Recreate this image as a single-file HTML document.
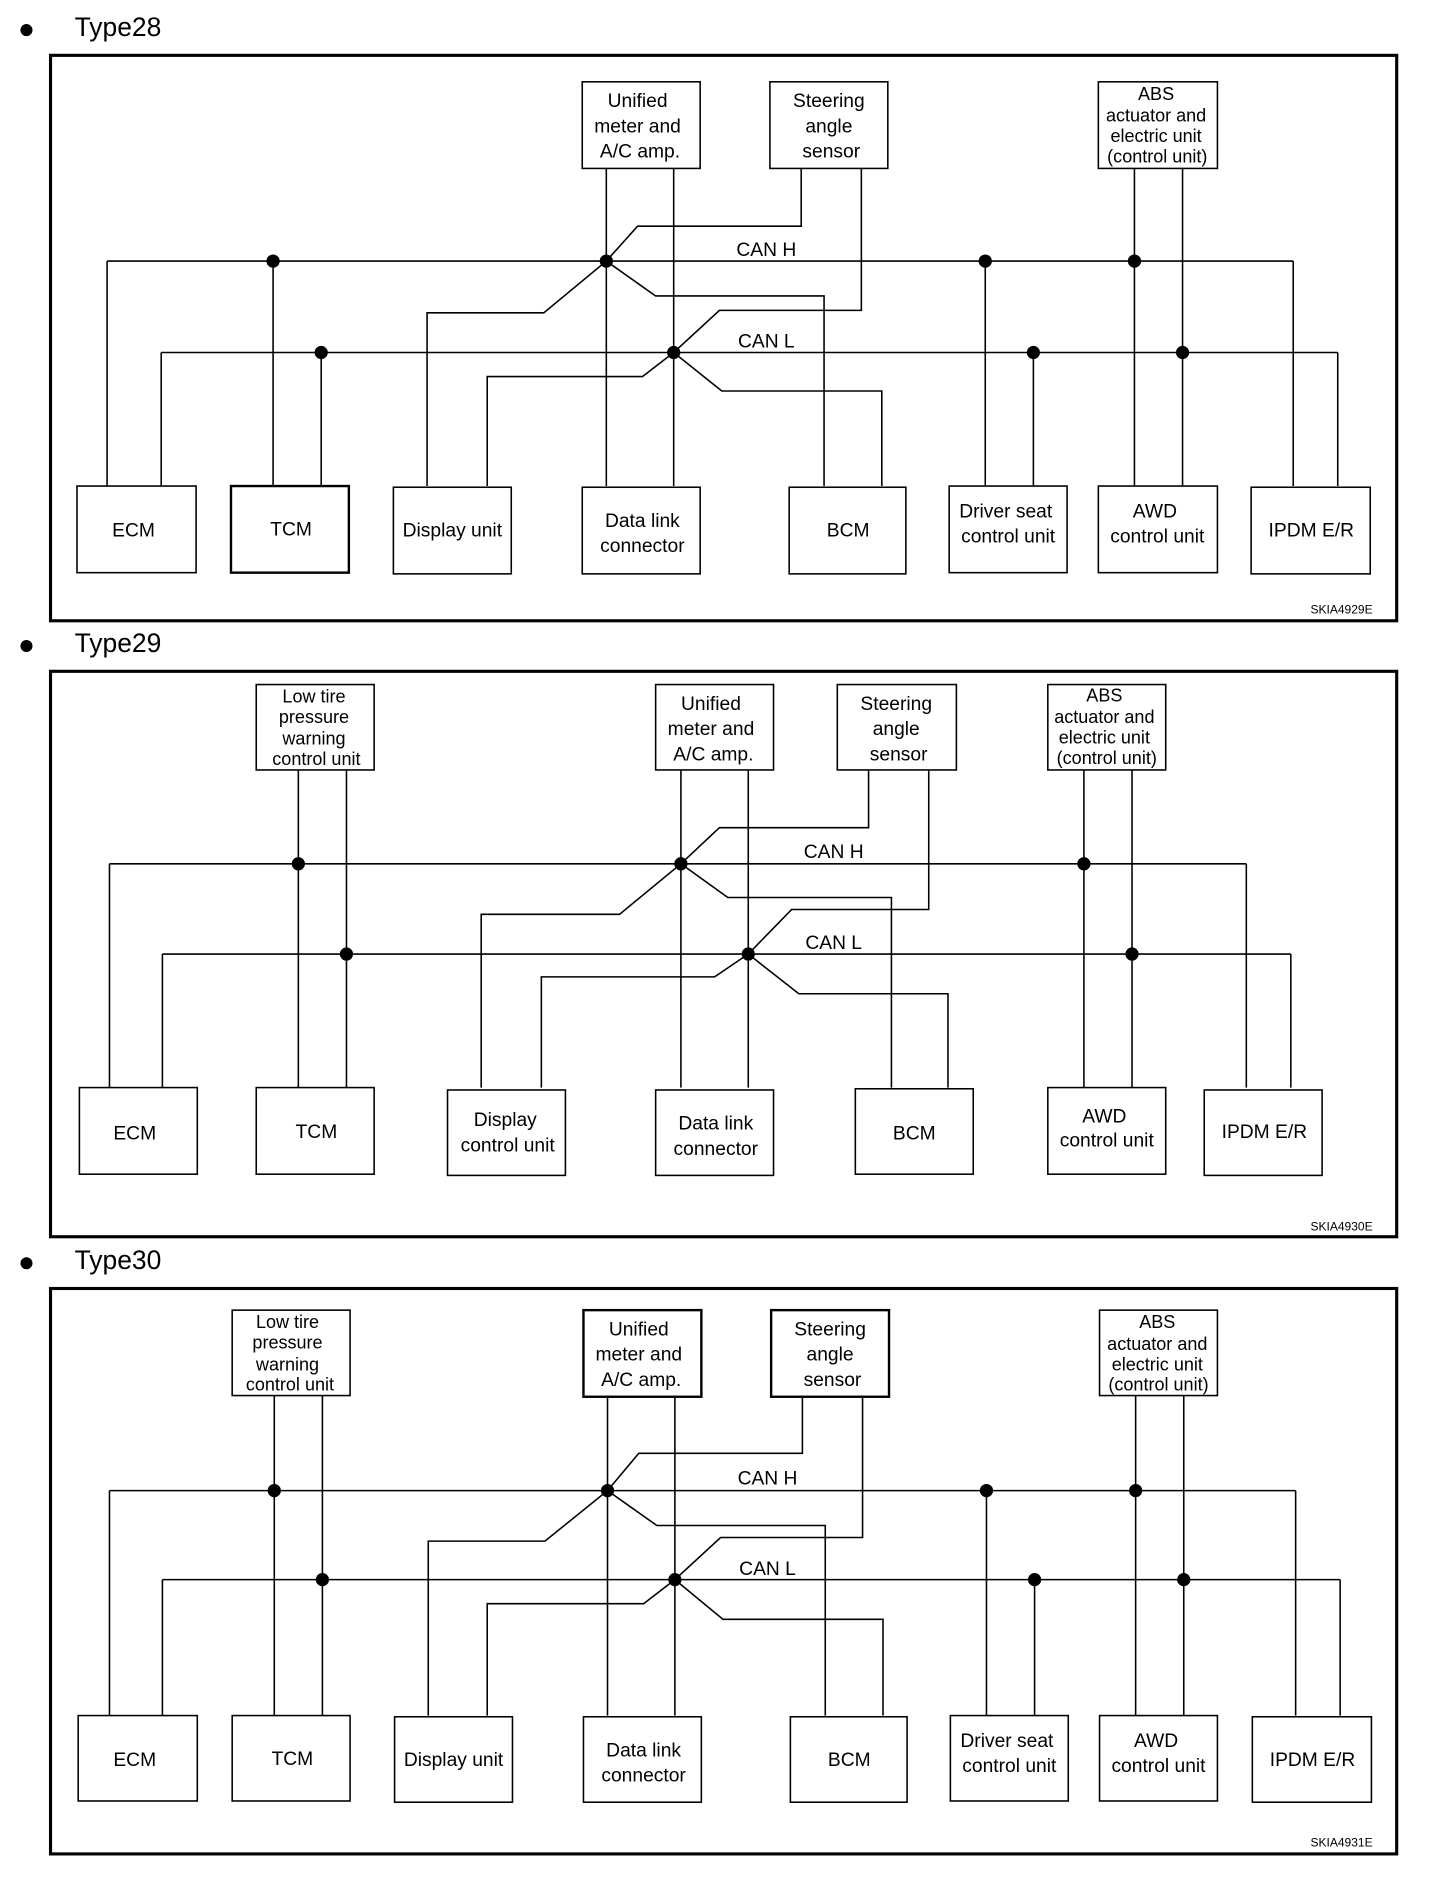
<!DOCTYPE html>
<html><head><meta charset="utf-8"><style>
html,body{margin:0;padding:0;background:#fff}
svg{display:block}
text{font-family:"Liberation Sans",Arial,sans-serif;fill:#000}
</style></head><body>
<svg width="1440" height="1884" viewBox="0 0 1197 1566" preserveAspectRatio="none" xmlns="http://www.w3.org/2000/svg">
<defs><style>
.w{fill:none;stroke:#000;stroke-width:1.3}
.b{fill:#fff;stroke:#000;stroke-width:1.3}
.f{fill:none;stroke:#000;stroke-width:2.6}
.t{font-size:16px;text-anchor:middle}
.s{font-size:15px;text-anchor:middle}
.h{font-size:22px}
.k{font-size:10px;text-anchor:end}
</style></defs>

<!-- ===== Type28 ===== -->
<circle cx="22" cy="25" r="5"/>
<text class="h" x="62" y="30">Type28</text>
<rect class="f" x="42" y="46" width="1119" height="470"/>
<g class="w">
<line x1="89" y1="217" x2="1075" y2="217"/>
<line x1="134" y1="293" x2="1112" y2="293"/>
<polyline points="89,217 89,404"/><polyline points="134,293 134,404"/>
<line x1="227" y1="217" x2="227" y2="404"/><line x1="267" y1="293" x2="267" y2="404"/>
<line x1="504" y1="140" x2="504" y2="404"/><line x1="560" y1="140" x2="560" y2="404"/>
<polyline points="666,140 666,188 530,188 504,217 452,260 355,260 355,404"/>
<polyline points="716,140 716,258 598,258 560,293 534,313 405,313 405,404"/>
<polyline points="504,217 545,246 685,246 685,404"/>
<polyline points="560,293 600,325 733,325 733,404"/>
<line x1="819" y1="217" x2="819" y2="404"/><line x1="859" y1="293" x2="859" y2="404"/>
<line x1="943" y1="140" x2="943" y2="404"/><line x1="983" y1="140" x2="983" y2="404"/>
<polyline points="1075,217 1075,404"/><polyline points="1112,293 1112,404"/>
</g>
<g>
<circle cx="227" cy="217" r="5.5"/><circle cx="504" cy="217" r="5.5"/><circle cx="819" cy="217" r="5.5"/><circle cx="943" cy="217" r="5.5"/>
<circle cx="267" cy="293" r="5.5"/><circle cx="560" cy="293" r="5.5"/><circle cx="859" cy="293" r="5.5"/><circle cx="983" cy="293" r="5.5"/>
</g>
<text class="t" x="637" y="213">CAN H</text><text class="t" x="637" y="289">CAN L</text>
<rect class="b" x="484" y="68" width="98" height="72"/>
<text class="t" x="530" y="89">Unified</text><text class="t" x="530" y="110">meter and</text><text class="t" x="532" y="131">A/C amp.</text>
<rect class="b" x="640" y="68" width="98" height="72"/>
<text class="t" x="689" y="89">Steering</text><text class="t" x="689" y="110">angle</text><text class="t" x="691" y="131">sensor</text>
<rect class="b" x="913" y="68" width="99" height="72"/>
<text class="s" x="961" y="83">ABS</text><text class="s" x="961" y="101">actuator and</text><text class="s" x="961" y="118">electric unit</text><text class="s" x="962" y="135">(control unit)</text>
<rect class="b" x="64" y="404" width="99" height="72"/><text class="t" x="111" y="446">ECM</text>
<rect class="b" x="192" y="404" width="98" height="72" style="stroke-width:2"/><text class="t" x="242" y="445">TCM</text>
<rect class="b" x="327" y="405" width="98" height="72"/><text class="t" x="376" y="446">Display unit</text>
<rect class="b" x="484" y="405" width="98" height="72"/><text class="t" x="534" y="438">Data link</text><text class="t" x="534" y="459">connector</text>
<rect class="b" x="656" y="405" width="97" height="72"/><text class="t" x="705" y="446">BCM</text>
<rect class="b" x="789" y="404" width="98" height="72"/><text class="t" x="836" y="430">Driver seat</text><text class="t" x="838" y="451">control unit</text>
<rect class="b" x="913" y="404" width="99" height="72"/><text class="t" x="960" y="430">AWD</text><text class="t" x="962" y="451">control unit</text>
<rect class="b" x="1040" y="405" width="99" height="72"/><text class="t" x="1090" y="446">IPDM E/R</text>
<text class="k" x="1141" y="510">SKIA4929E</text>

<!-- ===== Type29 ===== -->
<circle cx="22" cy="537" r="5"/>
<text class="h" x="62" y="542">Type29</text>
<rect class="f" x="42" y="558" width="1119" height="470"/>
<g class="w">
<line x1="91" y1="718" x2="1036" y2="718"/>
<line x1="135" y1="793" x2="1073" y2="793"/>
<line x1="91" y1="718" x2="91" y2="904"/><line x1="135" y1="793" x2="135" y2="904"/>
<line x1="248" y1="640" x2="248" y2="904"/><line x1="288" y1="640" x2="288" y2="904"/>
<line x1="566" y1="640" x2="566" y2="904"/><line x1="622" y1="640" x2="622" y2="904"/>
<polyline points="722,640 722,688 598,688 566,718 515,760 400,760 400,904"/>
<polyline points="772,640 772,756 658,756 622,793 594,812 450,812 450,904"/>
<polyline points="566,718 605,746 741,746 741,904"/>
<polyline points="622,793 664,826 788,826 788,904"/>
<line x1="901" y1="640" x2="901" y2="904"/><line x1="941" y1="640" x2="941" y2="904"/>
<line x1="1036" y1="718" x2="1036" y2="904"/><line x1="1073" y1="793" x2="1073" y2="904"/>
</g>
<g>
<circle cx="248" cy="718" r="5.5"/><circle cx="566" cy="718" r="5.5"/><circle cx="901" cy="718" r="5.5"/>
<circle cx="288" cy="793" r="5.5"/><circle cx="622" cy="793" r="5.5"/><circle cx="941" cy="793" r="5.5"/>
</g>
<text class="t" x="693" y="713">CAN H</text><text class="t" x="693" y="789">CAN L</text>
<rect class="b" x="213" y="569" width="98" height="71"/>
<text class="s" x="261" y="584">Low tire</text><text class="s" x="261" y="601">pressure</text><text class="s" x="261" y="619">warning</text><text class="s" x="263" y="636">control unit</text>
<rect class="b" x="545" y="569" width="98" height="71"/>
<text class="t" x="591" y="590">Unified</text><text class="t" x="591" y="611">meter and</text><text class="t" x="593" y="632">A/C amp.</text>
<rect class="b" x="696" y="569" width="99" height="71"/>
<text class="t" x="745" y="590">Steering</text><text class="t" x="745" y="611">angle</text><text class="t" x="747" y="632">sensor</text>
<rect class="b" x="871" y="569" width="98" height="71"/>
<text class="s" x="918" y="583">ABS</text><text class="s" x="918" y="601">actuator and</text><text class="s" x="918" y="618">electric unit</text><text class="s" x="920" y="635">(control unit)</text>
<rect class="b" x="66" y="904" width="98" height="72"/><text class="t" x="112" y="947">ECM</text>
<rect class="b" x="213" y="904" width="98" height="72"/><text class="t" x="263" y="946">TCM</text>
<rect class="b" x="372" y="906" width="98" height="71"/><text class="t" x="420" y="936">Display</text><text class="t" x="422" y="957">control unit</text>
<rect class="b" x="545" y="906" width="98" height="71"/><text class="t" x="595" y="939">Data link</text><text class="t" x="595" y="960">connector</text>
<rect class="b" x="711" y="905" width="98" height="71"/><text class="t" x="760" y="947">BCM</text>
<rect class="b" x="871" y="904" width="98" height="72"/><text class="t" x="918" y="933">AWD</text><text class="t" x="920" y="953">control unit</text>
<rect class="b" x="1001" y="906" width="98" height="71"/><text class="t" x="1051" y="946">IPDM E/R</text>
<text class="k" x="1141" y="1023">SKIA4930E</text>

<!-- ===== Type30 ===== -->
<circle cx="22" cy="1050" r="5"/>
<text class="h" x="62" y="1055">Type30</text>
<rect class="f" x="42" y="1071" width="1119" height="470"/>
<g class="w">
<line x1="91" y1="1239" x2="1077" y2="1239"/>
<line x1="135" y1="1313" x2="1114" y2="1313"/>
<line x1="91" y1="1239" x2="91" y2="1426"/><line x1="135" y1="1313" x2="135" y2="1426"/>
<line x1="228" y1="1160" x2="228" y2="1426"/><line x1="268" y1="1160" x2="268" y2="1426"/>
<line x1="505" y1="1160" x2="505" y2="1426"/><line x1="561" y1="1160" x2="561" y2="1426"/>
<polyline points="667,1160 667,1208 531,1208 505,1239 453,1281 356,1281 356,1426"/>
<polyline points="717,1160 717,1278 599,1278 561,1313 535,1333 405,1333 405,1426"/>
<polyline points="505,1239 546,1268 686,1268 686,1426"/>
<polyline points="561,1313 601,1346 734,1346 734,1426"/>
<line x1="820" y1="1239" x2="820" y2="1426"/><line x1="860" y1="1313" x2="860" y2="1426"/>
<line x1="944" y1="1160" x2="944" y2="1426"/><line x1="984" y1="1160" x2="984" y2="1426"/>
<line x1="1077" y1="1239" x2="1077" y2="1426"/><line x1="1114" y1="1313" x2="1114" y2="1426"/>
</g>
<g>
<circle cx="228" cy="1239" r="5.5"/><circle cx="505" cy="1239" r="5.5"/><circle cx="820" cy="1239" r="5.5"/><circle cx="944" cy="1239" r="5.5"/>
<circle cx="268" cy="1313" r="5.5"/><circle cx="561" cy="1313" r="5.5"/><circle cx="860" cy="1313" r="5.5"/><circle cx="984" cy="1313" r="5.5"/>
</g>
<text class="t" x="638" y="1234">CAN H</text><text class="t" x="638" y="1309">CAN L</text>
<rect class="b" x="193" y="1089" width="98" height="71"/>
<text class="s" x="239" y="1104">Low tire</text><text class="s" x="239" y="1121">pressure</text><text class="s" x="239" y="1139">warning</text><text class="s" x="241" y="1156">control unit</text>
<rect class="b" x="485" y="1089" width="98" height="72" style="stroke-width:2"/>
<text class="t" x="531" y="1110">Unified</text><text class="t" x="531" y="1131">meter and</text><text class="t" x="533" y="1152">A/C amp.</text>
<rect class="b" x="641" y="1089" width="98" height="72" style="stroke-width:2"/>
<text class="t" x="690" y="1110">Steering</text><text class="t" x="690" y="1131">angle</text><text class="t" x="692" y="1152">sensor</text>
<rect class="b" x="914" y="1089" width="98" height="71"/>
<text class="s" x="962" y="1104">ABS</text><text class="s" x="962" y="1122">actuator and</text><text class="s" x="962" y="1139">electric unit</text><text class="s" x="963" y="1156">(control unit)</text>
<rect class="b" x="65" y="1426" width="99" height="71"/><text class="t" x="112" y="1468">ECM</text>
<rect class="b" x="193" y="1426" width="98" height="71"/><text class="t" x="243" y="1467">TCM</text>
<rect class="b" x="328" y="1427" width="98" height="71"/><text class="t" x="377" y="1468">Display unit</text>
<rect class="b" x="485" y="1427" width="98" height="71"/><text class="t" x="535" y="1460">Data link</text><text class="t" x="535" y="1481">connector</text>
<rect class="b" x="657" y="1427" width="97" height="71"/><text class="t" x="706" y="1468">BCM</text>
<rect class="b" x="790" y="1426" width="98" height="71"/><text class="t" x="837" y="1452">Driver seat</text><text class="t" x="839" y="1473">control unit</text>
<rect class="b" x="914" y="1426" width="98" height="71"/><text class="t" x="961" y="1452">AWD</text><text class="t" x="963" y="1473">control unit</text>
<rect class="b" x="1041" y="1427" width="99" height="71"/><text class="t" x="1091" y="1468">IPDM E/R</text>
<text class="k" x="1141" y="1535">SKIA4931E</text>
</svg>
</body></html>
